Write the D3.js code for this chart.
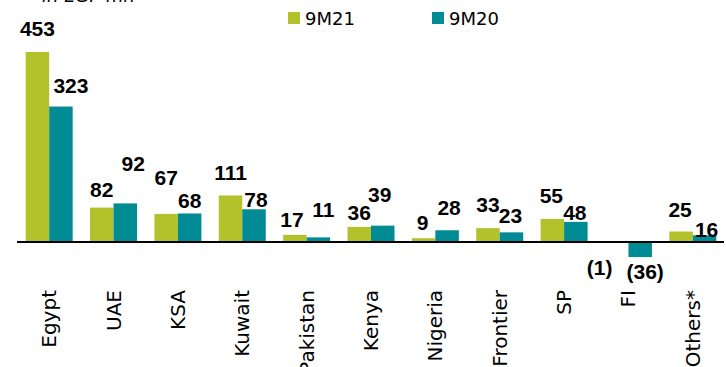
<!DOCTYPE html>
<html>
<head>
<meta charset="utf-8">
<script src="https://cdn.jsdelivr.net/npm/d3@7"></script>
<style>
  html, body { margin: 0; padding: 0; background: #fff; }
  svg { display: block; }
</style>
</head>
<body>
<svg id="chart" width="726" height="367"></svg>
<script>
// Categories and series values (EGP mn)
const categories = ["Egypt", "UAE", "KSA", "Kuwait", "Pakistan", "Kenya", "Nigeria", "Frontier", "SP", "FI", "Others*"];
const seriesNames = ["9M21", "9M20"];
const values9M21 = [453, 82, 67, 111, 17, 36, 9, 33, 55, -1, 25];
const values9M20 = [323, 92, 68, 78, 11, 39, 28, 23, 48, -36, 16];
const unitLabel = "in EGP mn";

// Hand-tuned label nudges (px) so neighbouring value labels do not collide
const labelNudge9M21 = [[0, -8], [0, -3], [0, -21], [0, -7], [-3, 0], [0, 1], [-1, 0], [0, -8], [-1, -8], [-17, 11], [-1, -7]];
const labelNudge9M20 = [[10, -6], [8, -24], [0, 3], [2, 6], [5, -12], [-3, -16], [2, -7], [-1, -1], [-1, 6], [5, 0], [2, 10]];

const colors = { "9M21": "#b3c22b", "9M20": "#008b95" };

const svg = d3.select("#chart");

const x0 = d3.scaleBand().domain(categories).range([17, 725]).paddingInner(0.27).paddingOuter(0.135);
const x1 = d3.scaleBand().domain(seriesNames).range([0, x0.bandwidth()]);
const y = d3.scaleLinear().domain([0, 453]).range([242, 52]);

const fmt = v => v < 0 ? "(" + Math.abs(v) + ")" : String(v);

const series = [
  { name: "9M21", values: values9M21, nudge: labelNudge9M21 },
  { name: "9M20", values: values9M20, nudge: labelNudge9M20 }
];

// Bars
series.forEach(s => {
  svg.append("g").selectAll("rect")
    .data(s.values.map((v, i) => ({ v, c: categories[i] })))
    .join("rect")
    .attr("x", d => x0(d.c) + x1(s.name))
    .attr("width", x1.bandwidth())
    .attr("y", d => Math.min(y(d.v), y(0)))
    .attr("height", d => Math.abs(y(d.v) - y(0)))
    .attr("fill", colors[s.name]);
});

// Zero axis line
svg.append("line")
  .attr("x1", 17).attr("x2", 724)
  .attr("y1", y(0)).attr("y2", y(0))
  .attr("stroke", "#000").attr("stroke-width", 2);

// Value labels
series.forEach(s => {
  svg.append("g").selectAll("text")
    .data(s.values.map((v, i) => ({ v, c: categories[i], n: s.nudge[i] })))
    .join("text")
    .attr("x", d => x0(d.c) + x1(s.name) + x1.bandwidth() / 2 + d.n[0])
    .attr("y", d => (d.v >= 0 ? y(d.v) - 8 : y(d.v) + 22) + d.n[1])
    .attr("text-anchor", "middle")
    .attr("font-family", "'Liberation Sans', Arial, sans-serif")
    .attr("font-weight", "bold")
    .attr("font-size", 21)
    .attr("fill", "#000")
    .text(d => fmt(d.v));
});

// Category labels, rotated
svg.append("g").selectAll("text")
  .data(categories)
  .join("text")
  .attr("transform", d => `translate(${x0(d) + x0.bandwidth() / 2},290) rotate(-90)`)
  .attr("text-anchor", "end")
  .attr("dy", "0.35em")
  .attr("font-family", "'DejaVu Sans', sans-serif")
  .attr("font-size", 20)
  .attr("fill", "#000")
  .text(d => d);

// Legend
const legend = svg.append("g");
const legendX = [288, 432];
seriesNames.forEach((n, i) => {
  legend.append("rect")
    .attr("x", legendX[i]).attr("y", 12).attr("width", 12).attr("height", 12)
    .attr("fill", colors[n]);
  legend.append("text")
    .attr("x", legendX[i] + 17).attr("y", 25)
    .attr("font-family", "'DejaVu Sans', sans-serif")
    .attr("font-size", 18)
    .attr("fill", "#000")
    .text(n);
});

// Unit note (partly above the top edge)
svg.append("text")
  .attr("x", 42).attr("y", 2)
  .attr("font-family", "'DejaVu Sans', sans-serif")
  .attr("font-style", "italic")
  .attr("font-size", 18)
  .attr("fill", "#000")
  .text(unitLabel);
</script>
</body>
</html>
